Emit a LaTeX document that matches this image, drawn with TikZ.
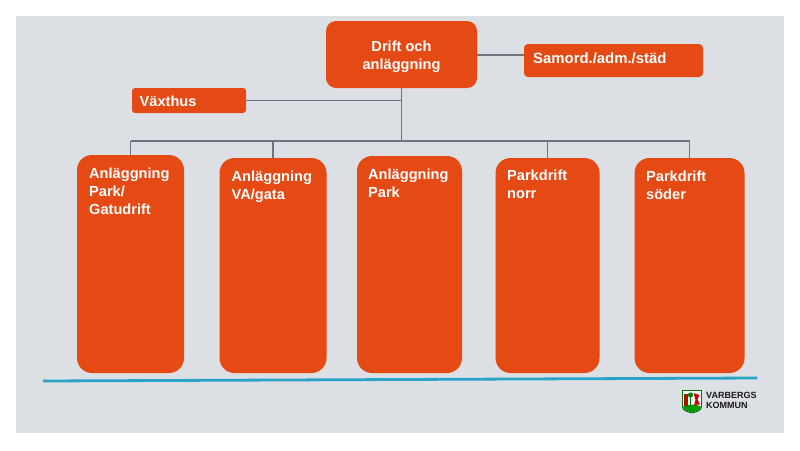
\documentclass[tikz,border=0pt]{standalone}
\usepackage{fontspec}
\setmainfont{Liberation Sans}
\definecolor{bgc}{HTML}{DCDFE3}
\definecolor{boxc}{HTML}{E64A14}
\definecolor{linec}{HTML}{6E747A}
\definecolor{bluec}{HTML}{2BA3C9}
\tikzset{
 box/.style={fill=boxc,draw=none,rounded corners=#1,inner sep=0,outer sep=0,anchor=north west},
 box/.default=12pt,
 lab/.style={text=white,font=\fontsize{14.6}{18}\selectfont\bfseries,align=left,inner sep=0,anchor=north west},
 conn/.style={draw=linec,line width=1.2pt}
}
\begin{document}
\begin{tikzpicture}[x=1pt,y=-1pt]
\useasboundingbox (0,0) rectangle (800,450);
\fill[white] (0,0) rectangle (800,450);
\fill[bgc] (16,16) rectangle (784,433);
% boxes
\node[box=10pt,minimum width=151pt,minimum height=67pt] (top) at (326,21) {};
\node[box=4pt,minimum width=179pt,minimum height=33pt] (sam) at (524,44) {};
\node[box=3pt,minimum width=114pt,minimum height=25pt] (vax) at (132,88) {};
\node[box=15pt,minimum width=107pt,minimum height=218pt] (a) at (77,155) {};
\node[box=15pt,minimum width=107pt,minimum height=215pt] (b) at (219.5,158) {};
\node[box=15pt,minimum width=105pt,minimum height=217pt] (c) at (357,156) {};
\node[box=15pt,minimum width=104pt,minimum height=215pt] (d) at (495.5,158) {};
\node[box=15pt,minimum width=110pt,minimum height=215pt] (e) at (634.5,158) {};
% connectors
\coordinate (bus) at (top.south |- 0,141);
\coordinate (busl) at (a.north |- bus);
\coordinate (busr) at (e.north |- bus);
\coordinate (busb) at (b.north |- bus);
\coordinate (busd) at (d.north |- bus);
\coordinate (vj) at (top.south |- vax.east);
\coordinate (sj) at (top.east |- 0,55);
\draw[conn] (top.south) -- (bus);
\draw[conn] (busl) -- (busr);
\draw[conn] (vax.east) -- (vj);
\draw[conn] (sj) -- (sj -| sam.west);
\draw[conn] (busl) -- (a.north);
\draw[conn] (busb) -- (b.north);
\draw[conn] (busd) -- (d.north);
\draw[conn] (busr) -- (e.north);
% labels
\node[lab,align=center,anchor=north] (ltop) at (top.north |- 0,40.5) {Drift och\\anläggning};
\node[lab,font=\fontsize{14.9}{18}\selectfont\bfseries] (lsam) at (533,52.5) {Samord./adm./städ};
\node[lab] (lvax) at (139.5,95.5) {Växthus};
\node[lab] (la) at (89,167.5) {Anläggning\\Park/\\Gatudrift};
\node[lab] (lb) at (231.5,170.5) {Anläggning\\VA/gata};
\node[lab] (lc) at (368,168.5) {Anläggning\\Park};
\node[lab] (ld) at (507,170) {Parkdrift\\norr};
\node[lab] (le) at (646,170.5) {Parkdrift\\söder};
% blue line
\coordinate (bl1) at (43,381);
\coordinate (bl2) at (757,378);
\draw[bluec,line width=2.8pt] (bl1) -- (bl2);
% logo
\draw[fill=white,draw=green!45!black,line width=.9pt] (682.5,390.5) -- (701.5,390.5) -- (701.5,407) .. controls (701.5,411) and (695,412) .. (692,413) .. controls (689,412) and (682.5,411) .. (682.5,407) -- cycle;
\fill[green!60!black] (683,406.5) .. controls (688,404) and (696,404) .. (701,406.5) .. controls (700.5,410.5) and (695,411.8) .. (692,412.6) .. controls (689,411.8) and (683.5,410.5) .. (683,406.5) -- cycle;
\fill[red!65!black!90!orange] (684,394) rectangle (688,406);
\fill[red!80!black] (693.5,393) -- (699.5,395) -- (697.5,399.5) -- (700,404.5) -- (694,405) -- (695.5,400) -- cycle;
\fill[green!50!black] (690.5,395) circle (2.6);
\fill[green!50!black] (690,397) rectangle (691.2,405);
\node[inner sep=0,anchor=north west,font=\fontsize{9}{10.5}\selectfont\bfseries,text=black!90,align=left] (logo) at (706,392) {VARBERGS\\KOMMUN};
\end{tikzpicture}
\end{document}
